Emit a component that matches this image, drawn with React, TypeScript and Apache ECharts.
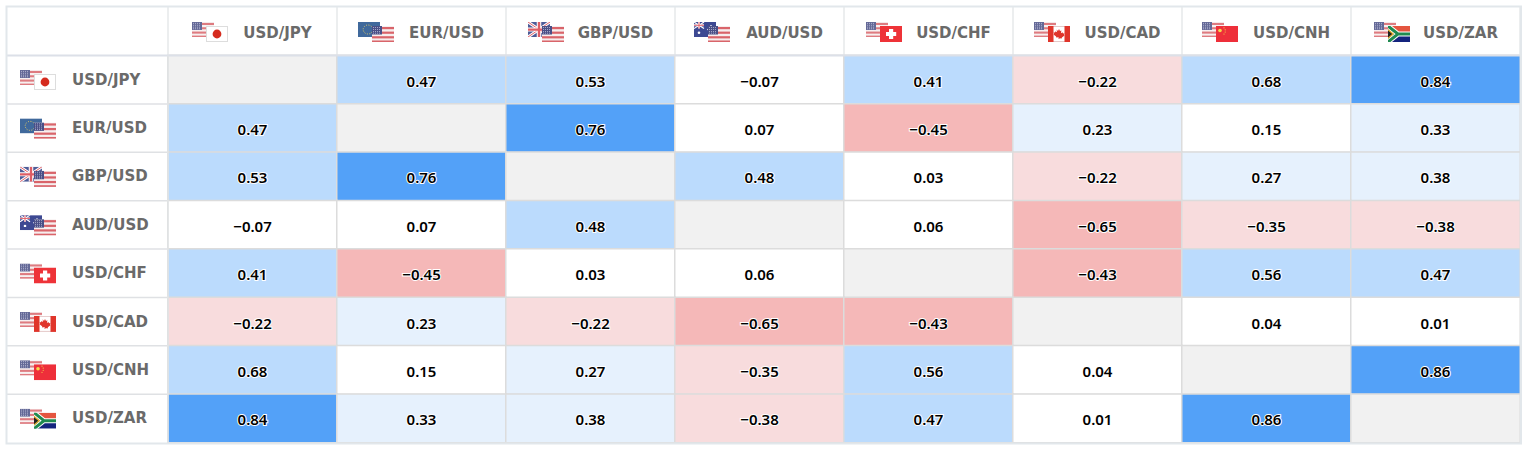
import React, { useEffect, useRef } from "react";
import * as echarts from "echarts";

const pairs = ["USD/JPY", "EUR/USD", "GBP/USD", "AUD/USD", "USD/CHF", "USD/CAD", "USD/CNH", "USD/ZAR"];
const row0 = [null, 0.47, 0.53, -0.07, 0.41, -0.22, 0.68, 0.84];
const row1 = [0.47, null, 0.76, 0.07, -0.45, 0.23, 0.15, 0.33];
const row2 = [0.53, 0.76, null, 0.48, 0.03, -0.22, 0.27, 0.38];
const row3 = [-0.07, 0.07, 0.48, null, 0.06, -0.65, -0.35, -0.38];
const row4 = [0.41, -0.45, 0.03, 0.06, null, -0.43, 0.56, 0.47];
const row5 = [-0.22, 0.23, -0.22, -0.65, -0.43, null, 0.04, 0.01];
const row6 = [0.68, 0.15, 0.27, -0.35, 0.56, 0.04, null, 0.86];
const row7 = [0.84, 0.33, 0.38, -0.38, 0.47, 0.01, 0.86, null];
const rows = [row0, row1, row2, row3, row4, row5, row6, row7];
const flagPairs = [["us", "jp"], ["eu", "us"], ["gb", "us"], ["au", "us"], ["us", "ch"], ["us", "ca"], ["us", "cn"], ["us", "za"]];
const headerFlagX = [192, 358, 528, 694, 866, 1034, 1202, 1374];

const W = 1532, H = 452;
const L = 168, T = 55.5, CW = 169, GW = 1352, GH = 387, OL = 7, OT = 7;
const RH = GH / 8;
const DIAGONAL = 2;

const usStripes = Array.from({ length: 4 }, (_, i) => `<rect y="${i * 4.6 + 1}" width="22" height="2.2" fill="#d9646a"/>`).join("");
const flagSvg: Record<string, string> = {
  us: `<rect width="22" height="16" fill="#f6eeee"/>${usStripes}<rect y="14.6" width="22" height="1.4" fill="#d9646a"/><rect width="10" height="8.5" fill="#4a4f86"/><path d="M1 1.5h8M1 3.5h8M1 5.5h8M1 7.2h8" stroke="#b9bdd8" stroke-width=".8" stroke-dasharray="1 1"/>`,
  jp: `<rect x=".5" y=".5" width="21" height="15" fill="#fff" stroke="#dddddd"/><circle cx="11" cy="8" r="4.4" fill="#d52b1e"/>`,
  eu: `<rect width="22" height="16" fill="#1f4f8b"/><circle cx="10" cy="8" r="4.8" fill="none" stroke="#e6c84a" stroke-width="1" stroke-dasharray="1 1.5"/>`,
  gb: `<rect width="22" height="16" fill="#2f3f86"/><path d="M0 0L22 16M22 0L0 16" stroke="#fff" stroke-width="3"/><path d="M0 0L22 16M22 0L0 16" stroke="#d8404a" stroke-width="1"/><path d="M11 0V16M0 8H22" stroke="#fff" stroke-width="4.5"/><path d="M11 0V16M0 8H22" stroke="#d8404a" stroke-width="2.4"/>`,
  au: `<rect width="22" height="16" fill="#1c2a80"/><path d="M0 0L10 7M10 0L0 7" stroke="#fff" stroke-width="1.2"/><path d="M5 0V7M0 3.5H10" stroke="#fff" stroke-width="2"/><path d="M5 0V7M0 3.5H10" stroke="#d8404a" stroke-width="1"/><circle cx="5" cy="11.5" r="1.3" fill="#fff"/><circle cx="17" cy="4" r=".8" fill="#fff"/><circle cx="14" cy="8" r=".8" fill="#fff"/><circle cx="19" cy="9" r=".8" fill="#fff"/><circle cx="17" cy="13" r=".8" fill="#fff"/>`,
  ch: `<rect width="22" height="16" fill="#ee3338"/><rect x="9" y="3" width="4.2" height="10" fill="#fff"/><rect x="6" y="6" width="10.2" height="4" fill="#fff"/>`,
  ca: `<rect x=".5" y=".5" width="21" height="15" fill="#fff" stroke="#e4c8c8"/><rect width="5.5" height="16" fill="#e0352b"/><rect x="16.5" width="5.5" height="16" fill="#e0352b"/><path d="M11 3l1 2 1.4-.6-.5 2.8 1.6-1 .5 1.2 1.4-.2-.5 1.7.6.5-2.6 2-.2 1.1-2.3-.3V13h-.8v-1.8l-2.3.3-.2-1.1-2.6-2 .6-.5-.5-1.7 1.4.2.5-1.2 1.6 1-.5-2.8L10 5z" fill="#e0352b"/>`,
  cn: `<rect width="22" height="16" fill="#ee2f3a"/><circle cx="4" cy="4.5" r="1.8" fill="#f6d84a"/><circle cx="8" cy="1.8" r=".6" fill="#f6d84a"/><circle cx="9.2" cy="3.8" r=".6" fill="#f6d84a"/><circle cx="9.2" cy="6" r=".6" fill="#f6d84a"/><circle cx="8" cy="8" r=".6" fill="#f6d84a"/>`,
  za: `<rect width="22" height="8" fill="#e4553f"/><rect y="8" width="22" height="8" fill="#14247e"/><path d="M0 0L10 8L0 16M10 8H22" fill="none" stroke="#fff" stroke-width="5"/><path d="M0 0L10 8L0 16M10 8H22" fill="none" stroke="#1f8a50" stroke-width="3"/><path d="M0 3L6 8L0 13z" fill="#e6b72a"/><path d="M0 4.5L4.2 8L0 11.5z" fill="#222"/>`,
};
const flagUri = (code: string, w: number, h: number) =>
  "data:image/svg+xml;charset=utf-8," +
  encodeURIComponent(`<svg xmlns="http://www.w3.org/2000/svg" width="${w}" height="${h}" viewBox="0 0 22 16" preserveAspectRatio="none">${flagSvg[code]}</svg>`);

const flagPair = (pair: string[], x: number, y: number) => [
  { type: "image", z: 5, style: { image: flagUri(pair[0], 22, 15), x, y, width: 22, height: 15, opacity: 0.85 } },
  { type: "image", z: 6, style: { image: flagUri(pair[1], 22, 16), x: x + 14, y: y + 4, width: 22, height: 16 } },
];

export default function App() {
  const ref = useRef<HTMLDivElement>(null);
  useEffect(() => {
    document.body.style.margin = "0";
    document.body.style.background = "#fff";
    const chart = echarts.init(ref.current!, undefined, { renderer: "svg" });
    const data: any[] = [];
    rows.forEach((r, y) =>
      r.forEach((v, x) => {
        if (v === null) {
          data.push({ value: [x, y, DIAGONAL], label: { show: false } });
        } else {
          data.push({ value: [x, y, v] });
        }
      })
    );
    const gridLines: any[] = [];
    const sep = "#E6E8EA";
    for (let i = 0; i <= 8; i++) {
      gridLines.push({ type: "line", z: 4, shape: { x1: L + i * CW, y1: OT, x2: L + i * CW, y2: T }, style: { stroke: sep, lineWidth: 1.5 } });
    }
    for (let i = 1; i <= 7; i++) {
      gridLines.push({ type: "line", z: 4, shape: { x1: OL, y1: T + i * RH, x2: L, y2: T + i * RH }, style: { stroke: "#DFE1E4", lineWidth: 1.5 } });
    }
    gridLines.push({ type: "line", z: 4, shape: { x1: OL, y1: T, x2: L + GW, y2: T }, style: { stroke: "#DCE0E8", lineWidth: 2 } });
    gridLines.push({ type: "line", z: 4, shape: { x1: L, y1: T, x2: L, y2: T + GH }, style: { stroke: "#E2E4E6", lineWidth: 1.5 } });
    gridLines.push({ type: "rect", z: 7, shape: { x: OL - 0.5, y: OT - 0.5, width: L + GW - OL + 1.5, height: T + GH - OT + 1.5 }, style: { fill: "none", stroke: "#E2E7EB", lineWidth: 2 } });

    const flags: any[] = [];
    flagPairs.forEach((p, i) => {
      flags.push(...flagPair(p, headerFlagX[i], 22));
      flags.push(...flagPair(p, 20, T + i * RH + 14.5));
    });

    chart.setOption({
      animation: false,
      backgroundColor: "#fff",
      grid: { left: L, top: T, width: GW, height: GH, containLabel: false },
      visualMap: {
        type: "piecewise",
        show: false,
        dimension: 2,
        seriesIndex: 0,
        pieces: [
          { min: 1.5, color: "#F1F1F1" },
          { min: 0.7, max: 1.5, color: "#53A1F8" },
          { min: 0.4, max: 0.7, color: "#BBDBFD" },
          { min: 0.2, max: 0.4, color: "#E6F1FD" },
          { min: -0.2, max: 0.2, color: "#FFFFFF" },
          { min: -0.4, max: -0.2, color: "#F8DCDD" },
          { min: -1, max: -0.4, color: "#F5B8B8" },
        ],
      },
      xAxis: {
        type: "category",
        position: "top",
        data: pairs,
        axisLine: { show: false },
        axisTick: { show: false },
        splitLine: { show: false },
        axisLabel: {
          interval: 0,
          margin: 15,
          color: "#6A6A6A",
          fontFamily: "DejaVu Sans",
          fontWeight: 700,
          fontSize: 15,
          padding: [0, 0, 0, 50],
        },
      },
      yAxis: {
        type: "category",
        inverse: true,
        data: pairs,
        axisLine: { show: false },
        axisTick: { show: false },
        splitLine: { show: false },
        axisLabel: {
          interval: 0,
          align: "left",
          margin: 96,
          color: "#6A6A6A",
          fontFamily: "DejaVu Sans",
          fontWeight: 700,
          fontSize: 15,
          padding: [0, 0, 3, 0],
        },
      },
      series: [
        {
          type: "heatmap",
          data,
          itemStyle: { borderColor: "#DCDCDC", borderWidth: 1.5 },
          label: {
            show: true,
            color: "#000",
            fontFamily: "Noto Sans",
            fontWeight: 600,
            fontSize: 15,
            textBorderColor: "#fff",
            textBorderWidth: 2,
            offset: [0, 1],
            formatter: (p: any) => {
              const v = p.value[2] as number;
              const s = Math.abs(v).toFixed(2);
              return v < 0 ? "\u2212" + s : s;
            },
          },
          emphasis: { disabled: true },
        },
      ],
      graphic: [...gridLines, ...flags],
    });
    return () => chart.dispose();
  }, []);
  return <div ref={ref} style={{ width: W, height: H, position: "absolute", left: 0, top: 0 }} />;
}
